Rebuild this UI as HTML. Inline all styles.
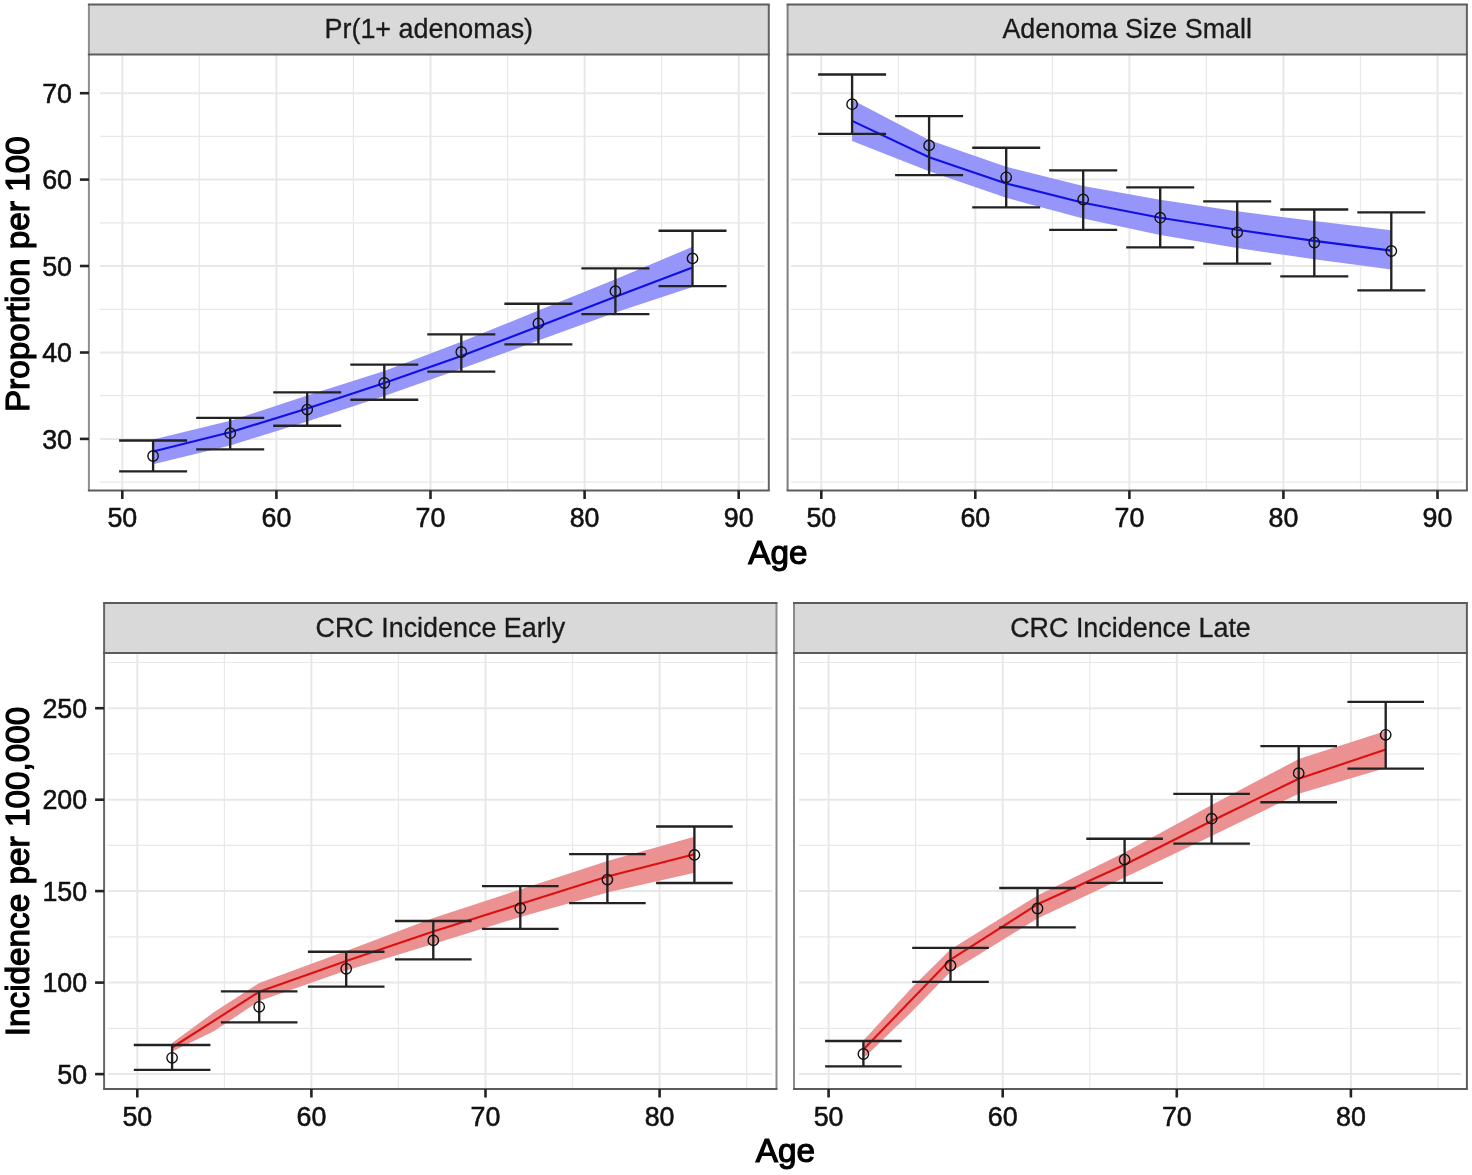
<!DOCTYPE html>
<html><head><meta charset="utf-8"><title>chart</title>
<style>html,body{margin:0;padding:0;background:#fff;}svg{display:block;filter:blur(0.45px);}text{font-family:"Liberation Sans", sans-serif;}</style>
</head><body>
<svg width="1472" height="1175" viewBox="0 0 1472 1175">
<rect width="1472" height="1175" fill="#fff"/>
<rect x="88.9" y="54.4" width="679.9" height="436.1" fill="#fff"/>
<line x1="100.0" x2="765.0" y1="482.1" y2="482.1" stroke="#e8e8e8" stroke-width="1.2"/>
<line x1="100.0" x2="765.0" y1="395.7" y2="395.7" stroke="#e8e8e8" stroke-width="1.2"/>
<line x1="100.0" x2="765.0" y1="309.3" y2="309.3" stroke="#e8e8e8" stroke-width="1.2"/>
<line x1="100.0" x2="765.0" y1="222.8" y2="222.8" stroke="#e8e8e8" stroke-width="1.2"/>
<line x1="100.0" x2="765.0" y1="136.4" y2="136.4" stroke="#e8e8e8" stroke-width="1.2"/>
<line x1="199.3" x2="199.3" y1="54.4" y2="490.5" stroke="#e8e8e8" stroke-width="1.2"/>
<line x1="353.4" x2="353.4" y1="54.4" y2="490.5" stroke="#e8e8e8" stroke-width="1.2"/>
<line x1="507.6" x2="507.6" y1="54.4" y2="490.5" stroke="#e8e8e8" stroke-width="1.2"/>
<line x1="661.6" x2="661.6" y1="54.4" y2="490.5" stroke="#e8e8e8" stroke-width="1.2"/>
<line x1="100.0" x2="765.0" y1="438.9" y2="438.9" stroke="#e8e8e8" stroke-width="2"/>
<line x1="100.0" x2="765.0" y1="352.5" y2="352.5" stroke="#e8e8e8" stroke-width="2"/>
<line x1="100.0" x2="765.0" y1="266.0" y2="266.0" stroke="#e8e8e8" stroke-width="2"/>
<line x1="100.0" x2="765.0" y1="179.6" y2="179.6" stroke="#e8e8e8" stroke-width="2"/>
<line x1="100.0" x2="765.0" y1="93.2" y2="93.2" stroke="#e8e8e8" stroke-width="2"/>
<line x1="122.3" x2="122.3" y1="54.4" y2="490.5" stroke="#e8e8e8" stroke-width="2"/>
<line x1="276.4" x2="276.4" y1="54.4" y2="490.5" stroke="#e8e8e8" stroke-width="2"/>
<line x1="430.5" x2="430.5" y1="54.4" y2="490.5" stroke="#e8e8e8" stroke-width="2"/>
<line x1="584.6" x2="584.6" y1="54.4" y2="490.5" stroke="#e8e8e8" stroke-width="2"/>
<line x1="738.7" x2="738.7" y1="54.4" y2="490.5" stroke="#e8e8e8" stroke-width="2"/>
<path d="M153.1,439.4 L230.2,420.8 L307.2,395.5 L384.3,371.0 L461.3,341.8 L538.4,310.5 L615.4,279.3 L692.5,246.8 L692.5,287.0 L615.4,312.5 L538.4,340.5 L461.3,368.8 L384.3,396.0 L307.2,421.5 L230.2,445.5 L153.1,464.2 Z" fill="#9696fa" stroke="none"/>
<path d="M153.1,451.4 L230.2,432.3 L307.2,408.4 L384.3,382.9 L461.3,356.1 L538.4,326.6 L615.4,296.8 L692.5,267.6" fill="none" stroke="#1010e6" stroke-width="2.1" stroke-linejoin="round"/>
<path d="M119.1,440.5H187.1M153.1,440.5V471.3M119.1,471.3H187.1" stroke="#222" stroke-width="2.35" fill="none"/>
<path d="M196.2,417.9H264.2M230.2,417.9V449.3M196.2,449.3H264.2" stroke="#222" stroke-width="2.35" fill="none"/>
<path d="M273.2,392.4H341.2M307.2,392.4V425.7M273.2,425.7H341.2" stroke="#222" stroke-width="2.35" fill="none"/>
<path d="M350.3,364.6H418.3M384.3,364.6V399.7M350.3,399.7H418.3" stroke="#222" stroke-width="2.35" fill="none"/>
<path d="M427.3,334.3H495.3M461.3,334.3V371.6M427.3,371.6H495.3" stroke="#222" stroke-width="2.35" fill="none"/>
<path d="M504.4,303.7H572.4M538.4,303.7V344.3M504.4,344.3H572.4" stroke="#222" stroke-width="2.35" fill="none"/>
<path d="M581.4,268.3H649.4M615.4,268.3V314.1M581.4,314.1H649.4" stroke="#222" stroke-width="2.35" fill="none"/>
<path d="M658.5,230.7H726.5M692.5,230.7V286.1M658.5,286.1H726.5" stroke="#222" stroke-width="2.35" fill="none"/>
<circle cx="153.1" cy="456.0" r="5.2" fill="none" stroke="#111" stroke-width="1.4"/>
<circle cx="230.2" cy="433.2" r="5.2" fill="none" stroke="#111" stroke-width="1.4"/>
<circle cx="307.2" cy="409.6" r="5.2" fill="none" stroke="#111" stroke-width="1.4"/>
<circle cx="384.3" cy="383.0" r="5.2" fill="none" stroke="#111" stroke-width="1.4"/>
<circle cx="461.3" cy="352.0" r="5.2" fill="none" stroke="#111" stroke-width="1.4"/>
<circle cx="538.4" cy="323.4" r="5.2" fill="none" stroke="#111" stroke-width="1.4"/>
<circle cx="615.4" cy="291.2" r="5.2" fill="none" stroke="#111" stroke-width="1.4"/>
<circle cx="692.5" cy="258.4" r="5.2" fill="none" stroke="#111" stroke-width="1.4"/>
<rect x="88.9" y="4.6" width="679.9" height="49.8" fill="#d9d9d9"/>
<path d="M88.9,4.6V490.5" stroke="#8e8e8e" stroke-width="2" fill="none"/>
<path d="M768.8,4.6V490.5" stroke="#646464" stroke-width="2" fill="none"/>
<path d="M87.9,4.6H769.8M87.9,54.4H769.8M87.9,490.5H769.8" stroke="#5c5c5c" stroke-width="2" fill="none"/>
<text x="428.8" y="38.4" font-size="26.9" fill="#1a1a1a" stroke="#1a1a1a" stroke-width="0.3" text-anchor="middle">Pr(1+ adenomas)</text>
<line x1="79.9" x2="88.9" y1="438.9" y2="438.9" stroke="#222" stroke-width="2.6"/>
<text x="72.0" y="448.5" font-size="26.8" fill="#111" stroke="#111" stroke-width="0.55" text-anchor="end">30</text>
<line x1="79.9" x2="88.9" y1="352.5" y2="352.5" stroke="#222" stroke-width="2.6"/>
<text x="72.0" y="362.1" font-size="26.8" fill="#111" stroke="#111" stroke-width="0.55" text-anchor="end">40</text>
<line x1="79.9" x2="88.9" y1="266.0" y2="266.0" stroke="#222" stroke-width="2.6"/>
<text x="72.0" y="275.6" font-size="26.8" fill="#111" stroke="#111" stroke-width="0.55" text-anchor="end">50</text>
<line x1="79.9" x2="88.9" y1="179.6" y2="179.6" stroke="#222" stroke-width="2.6"/>
<text x="72.0" y="189.2" font-size="26.8" fill="#111" stroke="#111" stroke-width="0.55" text-anchor="end">60</text>
<line x1="79.9" x2="88.9" y1="93.2" y2="93.2" stroke="#222" stroke-width="2.6"/>
<text x="72.0" y="102.8" font-size="26.8" fill="#111" stroke="#111" stroke-width="0.55" text-anchor="end">70</text>
<line x1="122.3" x2="122.3" y1="490.5" y2="499.0" stroke="#222" stroke-width="2.6"/>
<text x="122.3" y="527.3" font-size="26.8" fill="#111" stroke="#111" stroke-width="0.55" text-anchor="middle">50</text>
<line x1="276.4" x2="276.4" y1="490.5" y2="499.0" stroke="#222" stroke-width="2.6"/>
<text x="276.4" y="527.3" font-size="26.8" fill="#111" stroke="#111" stroke-width="0.55" text-anchor="middle">60</text>
<line x1="430.5" x2="430.5" y1="490.5" y2="499.0" stroke="#222" stroke-width="2.6"/>
<text x="430.5" y="527.3" font-size="26.8" fill="#111" stroke="#111" stroke-width="0.55" text-anchor="middle">70</text>
<line x1="584.6" x2="584.6" y1="490.5" y2="499.0" stroke="#222" stroke-width="2.6"/>
<text x="584.6" y="527.3" font-size="26.8" fill="#111" stroke="#111" stroke-width="0.55" text-anchor="middle">80</text>
<line x1="738.7" x2="738.7" y1="490.5" y2="499.0" stroke="#222" stroke-width="2.6"/>
<text x="738.7" y="527.3" font-size="26.8" fill="#111" stroke="#111" stroke-width="0.55" text-anchor="middle">90</text>
<rect x="787.6" y="54.4" width="679.3" height="436.1" fill="#fff"/>
<line x1="791.0" x2="1463.0" y1="482.1" y2="482.1" stroke="#e8e8e8" stroke-width="1.2"/>
<line x1="791.0" x2="1463.0" y1="395.7" y2="395.7" stroke="#e8e8e8" stroke-width="1.2"/>
<line x1="791.0" x2="1463.0" y1="309.3" y2="309.3" stroke="#e8e8e8" stroke-width="1.2"/>
<line x1="791.0" x2="1463.0" y1="222.8" y2="222.8" stroke="#e8e8e8" stroke-width="1.2"/>
<line x1="791.0" x2="1463.0" y1="136.4" y2="136.4" stroke="#e8e8e8" stroke-width="1.2"/>
<line x1="898.3" x2="898.3" y1="54.4" y2="490.5" stroke="#e8e8e8" stroke-width="1.2"/>
<line x1="1052.4" x2="1052.4" y1="54.4" y2="490.5" stroke="#e8e8e8" stroke-width="1.2"/>
<line x1="1206.4" x2="1206.4" y1="54.4" y2="490.5" stroke="#e8e8e8" stroke-width="1.2"/>
<line x1="1360.5" x2="1360.5" y1="54.4" y2="490.5" stroke="#e8e8e8" stroke-width="1.2"/>
<line x1="791.0" x2="1463.0" y1="438.9" y2="438.9" stroke="#e8e8e8" stroke-width="2"/>
<line x1="791.0" x2="1463.0" y1="352.5" y2="352.5" stroke="#e8e8e8" stroke-width="2"/>
<line x1="791.0" x2="1463.0" y1="266.0" y2="266.0" stroke="#e8e8e8" stroke-width="2"/>
<line x1="791.0" x2="1463.0" y1="179.6" y2="179.6" stroke="#e8e8e8" stroke-width="2"/>
<line x1="791.0" x2="1463.0" y1="93.2" y2="93.2" stroke="#e8e8e8" stroke-width="2"/>
<line x1="821.3" x2="821.3" y1="54.4" y2="490.5" stroke="#e8e8e8" stroke-width="2"/>
<line x1="975.3" x2="975.3" y1="54.4" y2="490.5" stroke="#e8e8e8" stroke-width="2"/>
<line x1="1129.4" x2="1129.4" y1="54.4" y2="490.5" stroke="#e8e8e8" stroke-width="2"/>
<line x1="1283.4" x2="1283.4" y1="54.4" y2="490.5" stroke="#e8e8e8" stroke-width="2"/>
<line x1="1437.5" x2="1437.5" y1="54.4" y2="490.5" stroke="#e8e8e8" stroke-width="2"/>
<path d="M852.1,99.7 L929.1,140.0 L1006.2,166.8 L1083.2,186.1 L1160.2,199.8 L1237.2,211.3 L1314.3,221.1 L1391.3,230.3 L1391.3,269.4 L1314.3,259.3 L1237.2,248.0 L1160.2,234.9 L1083.2,218.6 L1006.2,197.8 L929.1,171.3 L852.1,141.0 Z" fill="#9696fa" stroke="none"/>
<path d="M852.1,120.9 L929.1,157.2 L1006.2,183.4 L1083.2,202.7 L1160.2,217.7 L1237.2,229.8 L1314.3,240.9 L1391.3,250.6" fill="none" stroke="#1010e6" stroke-width="2.1" stroke-linejoin="round"/>
<path d="M818.1,74.5H886.1M852.1,74.5V133.8M818.1,133.8H886.1" stroke="#222" stroke-width="2.35" fill="none"/>
<path d="M895.1,116.1H963.1M929.1,116.1V175.1M895.1,175.1H963.1" stroke="#222" stroke-width="2.35" fill="none"/>
<path d="M972.2,147.7H1040.2M1006.2,147.7V207.3M972.2,207.3H1040.2" stroke="#222" stroke-width="2.35" fill="none"/>
<path d="M1049.2,170.4H1117.2M1083.2,170.4V229.8M1049.2,229.8H1117.2" stroke="#222" stroke-width="2.35" fill="none"/>
<path d="M1126.2,187.3H1194.2M1160.2,187.3V247.3M1126.2,247.3H1194.2" stroke="#222" stroke-width="2.35" fill="none"/>
<path d="M1203.2,201.4H1271.2M1237.2,201.4V263.6M1203.2,263.6H1271.2" stroke="#222" stroke-width="2.35" fill="none"/>
<path d="M1280.3,209.5H1348.3M1314.3,209.5V276.3M1280.3,276.3H1348.3" stroke="#222" stroke-width="2.35" fill="none"/>
<path d="M1357.3,212.3H1425.3M1391.3,212.3V290.4M1357.3,290.4H1425.3" stroke="#222" stroke-width="2.35" fill="none"/>
<circle cx="852.1" cy="104.2" r="5.2" fill="none" stroke="#111" stroke-width="1.4"/>
<circle cx="929.1" cy="145.4" r="5.2" fill="none" stroke="#111" stroke-width="1.4"/>
<circle cx="1006.2" cy="177.3" r="5.2" fill="none" stroke="#111" stroke-width="1.4"/>
<circle cx="1083.2" cy="199.5" r="5.2" fill="none" stroke="#111" stroke-width="1.4"/>
<circle cx="1160.2" cy="217.7" r="5.2" fill="none" stroke="#111" stroke-width="1.4"/>
<circle cx="1237.2" cy="232.3" r="5.2" fill="none" stroke="#111" stroke-width="1.4"/>
<circle cx="1314.3" cy="242.6" r="5.2" fill="none" stroke="#111" stroke-width="1.4"/>
<circle cx="1391.3" cy="251.0" r="5.2" fill="none" stroke="#111" stroke-width="1.4"/>
<rect x="787.6" y="4.6" width="679.3" height="49.8" fill="#d9d9d9"/>
<path d="M787.6,4.6V490.5" stroke="#7e7e7e" stroke-width="2" fill="none"/>
<path d="M1466.9,4.6V490.5" stroke="#646464" stroke-width="2" fill="none"/>
<path d="M786.6,4.6H1467.9M786.6,54.4H1467.9M786.6,490.5H1467.9" stroke="#5c5c5c" stroke-width="2" fill="none"/>
<text x="1127.2" y="38.4" font-size="26.9" fill="#1a1a1a" stroke="#1a1a1a" stroke-width="0.3" text-anchor="middle">Adenoma Size Small</text>
<line x1="821.3" x2="821.3" y1="490.5" y2="499.0" stroke="#222" stroke-width="2.6"/>
<text x="821.3" y="527.3" font-size="26.8" fill="#111" stroke="#111" stroke-width="0.55" text-anchor="middle">50</text>
<line x1="975.3" x2="975.3" y1="490.5" y2="499.0" stroke="#222" stroke-width="2.6"/>
<text x="975.3" y="527.3" font-size="26.8" fill="#111" stroke="#111" stroke-width="0.55" text-anchor="middle">60</text>
<line x1="1129.4" x2="1129.4" y1="490.5" y2="499.0" stroke="#222" stroke-width="2.6"/>
<text x="1129.4" y="527.3" font-size="26.8" fill="#111" stroke="#111" stroke-width="0.55" text-anchor="middle">70</text>
<line x1="1283.4" x2="1283.4" y1="490.5" y2="499.0" stroke="#222" stroke-width="2.6"/>
<text x="1283.4" y="527.3" font-size="26.8" fill="#111" stroke="#111" stroke-width="0.55" text-anchor="middle">80</text>
<line x1="1437.5" x2="1437.5" y1="490.5" y2="499.0" stroke="#222" stroke-width="2.6"/>
<text x="1437.5" y="527.3" font-size="26.8" fill="#111" stroke="#111" stroke-width="0.55" text-anchor="middle">90</text>
<rect x="104.1" y="653.0" width="672.4" height="436.0" fill="#fff"/>
<line x1="107.7" x2="771.7" y1="1028.4" y2="1028.4" stroke="#e8e8e8" stroke-width="1.2"/>
<line x1="107.7" x2="771.7" y1="936.9" y2="936.9" stroke="#e8e8e8" stroke-width="1.2"/>
<line x1="107.7" x2="771.7" y1="845.4" y2="845.4" stroke="#e8e8e8" stroke-width="1.2"/>
<line x1="107.7" x2="771.7" y1="753.9" y2="753.9" stroke="#e8e8e8" stroke-width="1.2"/>
<line x1="107.7" x2="771.7" y1="662.5" y2="662.5" stroke="#e8e8e8" stroke-width="1.2"/>
<line x1="224.4" x2="224.4" y1="653.0" y2="1089.0" stroke="#e8e8e8" stroke-width="1.2"/>
<line x1="398.4" x2="398.4" y1="653.0" y2="1089.0" stroke="#e8e8e8" stroke-width="1.2"/>
<line x1="572.5" x2="572.5" y1="653.0" y2="1089.0" stroke="#e8e8e8" stroke-width="1.2"/>
<line x1="746.7" x2="746.7" y1="653.0" y2="1089.0" stroke="#e8e8e8" stroke-width="1.2"/>
<line x1="107.7" x2="771.7" y1="1074.1" y2="1074.1" stroke="#e8e8e8" stroke-width="2"/>
<line x1="107.7" x2="771.7" y1="982.6" y2="982.6" stroke="#e8e8e8" stroke-width="2"/>
<line x1="107.7" x2="771.7" y1="891.1" y2="891.1" stroke="#e8e8e8" stroke-width="2"/>
<line x1="107.7" x2="771.7" y1="799.7" y2="799.7" stroke="#e8e8e8" stroke-width="2"/>
<line x1="107.7" x2="771.7" y1="708.2" y2="708.2" stroke="#e8e8e8" stroke-width="2"/>
<line x1="137.3" x2="137.3" y1="653.0" y2="1089.0" stroke="#e8e8e8" stroke-width="2"/>
<line x1="311.4" x2="311.4" y1="653.0" y2="1089.0" stroke="#e8e8e8" stroke-width="2"/>
<line x1="485.5" x2="485.5" y1="653.0" y2="1089.0" stroke="#e8e8e8" stroke-width="2"/>
<line x1="659.6" x2="659.6" y1="653.0" y2="1089.0" stroke="#e8e8e8" stroke-width="2"/>
<path d="M172.1,1043.0 L213.4,1012.6 L259.2,983.0 L346.2,951.0 L433.3,918.0 L520.3,889.4 L607.4,861.0 L694.4,836.7 L694.4,872.8 L607.4,892.6 L520.3,917.0 L433.3,944.0 L346.2,970.5 L259.2,1001.0 L213.4,1031.6 L172.1,1051.5 Z" fill="#eb9191" stroke="none"/>
<path d="M172.1,1047.5 L259.2,991.8 L346.2,961.1 L433.3,931.5 L520.3,903.9 L607.4,876.5 L694.4,854.2" fill="none" stroke="#dc1010" stroke-width="2.1" stroke-linejoin="round"/>
<path d="M133.8,1045.0H210.4M172.1,1045.0V1069.9M133.8,1069.9H210.4" stroke="#222" stroke-width="2.35" fill="none"/>
<path d="M220.9,991.4H297.5M259.2,991.4V1022.3M220.9,1022.3H297.5" stroke="#222" stroke-width="2.35" fill="none"/>
<path d="M307.9,951.7H384.5M346.2,951.7V986.6M307.9,986.6H384.5" stroke="#222" stroke-width="2.35" fill="none"/>
<path d="M395.0,921.0H471.6M433.3,921.0V959.4M395.0,959.4H471.6" stroke="#222" stroke-width="2.35" fill="none"/>
<path d="M482.0,886.1H558.6M520.3,886.1V928.9M482.0,928.9H558.6" stroke="#222" stroke-width="2.35" fill="none"/>
<path d="M569.1,854.1H645.7M607.4,854.1V903.1M569.1,903.1H645.7" stroke="#222" stroke-width="2.35" fill="none"/>
<path d="M656.1,826.5H732.7M694.4,826.5V883.0M656.1,883.0H732.7" stroke="#222" stroke-width="2.35" fill="none"/>
<circle cx="172.1" cy="1057.8" r="5.2" fill="none" stroke="#111" stroke-width="1.4"/>
<circle cx="259.2" cy="1006.8" r="5.2" fill="none" stroke="#111" stroke-width="1.4"/>
<circle cx="346.2" cy="968.8" r="5.2" fill="none" stroke="#111" stroke-width="1.4"/>
<circle cx="433.3" cy="940.4" r="5.2" fill="none" stroke="#111" stroke-width="1.4"/>
<circle cx="520.3" cy="908.1" r="5.2" fill="none" stroke="#111" stroke-width="1.4"/>
<circle cx="607.4" cy="879.6" r="5.2" fill="none" stroke="#111" stroke-width="1.4"/>
<circle cx="694.4" cy="854.9" r="5.2" fill="none" stroke="#111" stroke-width="1.4"/>
<rect x="104.1" y="602.9" width="672.4" height="50.1" fill="#d9d9d9"/>
<path d="M104.1,602.9V1089.0" stroke="#666666" stroke-width="2" fill="none"/>
<path d="M776.5,602.9V1089.0" stroke="#8e8e8e" stroke-width="2" fill="none"/>
<path d="M103.1,602.9H777.5M103.1,653.0H777.5M103.1,1089.0H777.5" stroke="#5c5c5c" stroke-width="2" fill="none"/>
<text x="440.3" y="637.0" font-size="26.9" fill="#1a1a1a" stroke="#1a1a1a" stroke-width="0.3" text-anchor="middle">CRC Incidence Early</text>
<line x1="95.1" x2="104.1" y1="1074.1" y2="1074.1" stroke="#222" stroke-width="2.6"/>
<text x="87.1" y="1083.7" font-size="26.8" fill="#111" stroke="#111" stroke-width="0.55" text-anchor="end">50</text>
<line x1="95.1" x2="104.1" y1="982.6" y2="982.6" stroke="#222" stroke-width="2.6"/>
<text x="87.1" y="992.2" font-size="26.8" fill="#111" stroke="#111" stroke-width="0.55" text-anchor="end">100</text>
<line x1="95.1" x2="104.1" y1="891.1" y2="891.1" stroke="#222" stroke-width="2.6"/>
<text x="87.1" y="900.7" font-size="26.8" fill="#111" stroke="#111" stroke-width="0.55" text-anchor="end">150</text>
<line x1="95.1" x2="104.1" y1="799.7" y2="799.7" stroke="#222" stroke-width="2.6"/>
<text x="87.1" y="809.3" font-size="26.8" fill="#111" stroke="#111" stroke-width="0.55" text-anchor="end">200</text>
<line x1="95.1" x2="104.1" y1="708.2" y2="708.2" stroke="#222" stroke-width="2.6"/>
<text x="87.1" y="717.8" font-size="26.8" fill="#111" stroke="#111" stroke-width="0.55" text-anchor="end">250</text>
<line x1="137.3" x2="137.3" y1="1089.0" y2="1097.5" stroke="#222" stroke-width="2.6"/>
<text x="137.3" y="1126.2" font-size="26.8" fill="#111" stroke="#111" stroke-width="0.55" text-anchor="middle">50</text>
<line x1="311.4" x2="311.4" y1="1089.0" y2="1097.5" stroke="#222" stroke-width="2.6"/>
<text x="311.4" y="1126.2" font-size="26.8" fill="#111" stroke="#111" stroke-width="0.55" text-anchor="middle">60</text>
<line x1="485.5" x2="485.5" y1="1089.0" y2="1097.5" stroke="#222" stroke-width="2.6"/>
<text x="485.5" y="1126.2" font-size="26.8" fill="#111" stroke="#111" stroke-width="0.55" text-anchor="middle">70</text>
<line x1="659.6" x2="659.6" y1="1089.0" y2="1097.5" stroke="#222" stroke-width="2.6"/>
<text x="659.6" y="1126.2" font-size="26.8" fill="#111" stroke="#111" stroke-width="0.55" text-anchor="middle">80</text>
<rect x="794.0" y="653.0" width="672.9" height="436.0" fill="#fff"/>
<line x1="799.0" x2="1461.4" y1="1028.4" y2="1028.4" stroke="#e8e8e8" stroke-width="1.2"/>
<line x1="799.0" x2="1461.4" y1="936.9" y2="936.9" stroke="#e8e8e8" stroke-width="1.2"/>
<line x1="799.0" x2="1461.4" y1="845.4" y2="845.4" stroke="#e8e8e8" stroke-width="1.2"/>
<line x1="799.0" x2="1461.4" y1="753.9" y2="753.9" stroke="#e8e8e8" stroke-width="1.2"/>
<line x1="799.0" x2="1461.4" y1="662.5" y2="662.5" stroke="#e8e8e8" stroke-width="1.2"/>
<line x1="915.6" x2="915.6" y1="653.0" y2="1089.0" stroke="#e8e8e8" stroke-width="1.2"/>
<line x1="1089.8" x2="1089.8" y1="653.0" y2="1089.0" stroke="#e8e8e8" stroke-width="1.2"/>
<line x1="1263.8" x2="1263.8" y1="653.0" y2="1089.0" stroke="#e8e8e8" stroke-width="1.2"/>
<line x1="1438.0" x2="1438.0" y1="653.0" y2="1089.0" stroke="#e8e8e8" stroke-width="1.2"/>
<line x1="799.0" x2="1461.4" y1="1074.1" y2="1074.1" stroke="#e8e8e8" stroke-width="2"/>
<line x1="799.0" x2="1461.4" y1="982.6" y2="982.6" stroke="#e8e8e8" stroke-width="2"/>
<line x1="799.0" x2="1461.4" y1="891.1" y2="891.1" stroke="#e8e8e8" stroke-width="2"/>
<line x1="799.0" x2="1461.4" y1="799.7" y2="799.7" stroke="#e8e8e8" stroke-width="2"/>
<line x1="799.0" x2="1461.4" y1="708.2" y2="708.2" stroke="#e8e8e8" stroke-width="2"/>
<line x1="828.6" x2="828.6" y1="653.0" y2="1089.0" stroke="#e8e8e8" stroke-width="2"/>
<line x1="1002.7" x2="1002.7" y1="653.0" y2="1089.0" stroke="#e8e8e8" stroke-width="2"/>
<line x1="1176.8" x2="1176.8" y1="653.0" y2="1089.0" stroke="#e8e8e8" stroke-width="2"/>
<line x1="1350.9" x2="1350.9" y1="653.0" y2="1089.0" stroke="#e8e8e8" stroke-width="2"/>
<path d="M863.4,1040.5 L912.2,987.2 L950.5,949.5 L1037.5,895.4 L1124.6,852.5 L1211.6,804.9 L1298.7,759.1 L1385.7,731.1 L1385.7,768.0 L1298.7,793.7 L1211.6,835.9 L1124.6,877.5 L1037.5,918.4 L950.5,972.0 L912.2,1011.3 L863.4,1058.5 Z" fill="#eb9191" stroke="none"/>
<path d="M863.4,1049.5 L950.5,959.6 L1037.5,904.3 L1124.6,864.7 L1211.6,821.0 L1298.7,778.7 L1385.7,749.5" fill="none" stroke="#dc1010" stroke-width="2.1" stroke-linejoin="round"/>
<path d="M825.1,1041.0H901.7M863.4,1041.0V1066.3M825.1,1066.3H901.7" stroke="#222" stroke-width="2.35" fill="none"/>
<path d="M912.2,947.9H988.8M950.5,947.9V981.9M912.2,981.9H988.8" stroke="#222" stroke-width="2.35" fill="none"/>
<path d="M999.2,888.0H1075.8M1037.5,888.0V927.3M999.2,927.3H1075.8" stroke="#222" stroke-width="2.35" fill="none"/>
<path d="M1086.3,838.7H1162.9M1124.6,838.7V882.9M1086.3,882.9H1162.9" stroke="#222" stroke-width="2.35" fill="none"/>
<path d="M1173.3,793.8H1249.9M1211.6,793.8V843.6M1173.3,843.6H1249.9" stroke="#222" stroke-width="2.35" fill="none"/>
<path d="M1260.4,746.1H1337.0M1298.7,746.1V802.2M1260.4,802.2H1337.0" stroke="#222" stroke-width="2.35" fill="none"/>
<path d="M1347.4,701.8H1424.0M1385.7,701.8V768.6M1347.4,768.6H1424.0" stroke="#222" stroke-width="2.35" fill="none"/>
<circle cx="863.4" cy="1054.0" r="5.2" fill="none" stroke="#111" stroke-width="1.4"/>
<circle cx="950.5" cy="965.5" r="5.2" fill="none" stroke="#111" stroke-width="1.4"/>
<circle cx="1037.5" cy="908.5" r="5.2" fill="none" stroke="#111" stroke-width="1.4"/>
<circle cx="1124.6" cy="859.6" r="5.2" fill="none" stroke="#111" stroke-width="1.4"/>
<circle cx="1211.6" cy="818.7" r="5.2" fill="none" stroke="#111" stroke-width="1.4"/>
<circle cx="1298.7" cy="773.2" r="5.2" fill="none" stroke="#111" stroke-width="1.4"/>
<circle cx="1385.7" cy="734.8" r="5.2" fill="none" stroke="#111" stroke-width="1.4"/>
<rect x="794.0" y="602.9" width="672.9" height="50.1" fill="#d9d9d9"/>
<path d="M794.0,602.9V1089.0" stroke="#8a8a8a" stroke-width="2" fill="none"/>
<path d="M1466.9,602.9V1089.0" stroke="#5e5e5e" stroke-width="2" fill="none"/>
<path d="M793.0,602.9H1467.9M793.0,653.0H1467.9M793.0,1089.0H1467.9" stroke="#5c5c5c" stroke-width="2" fill="none"/>
<text x="1130.5" y="637.0" font-size="26.9" fill="#1a1a1a" stroke="#1a1a1a" stroke-width="0.3" text-anchor="middle">CRC Incidence Late</text>
<line x1="828.6" x2="828.6" y1="1089.0" y2="1097.5" stroke="#222" stroke-width="2.6"/>
<text x="828.6" y="1126.2" font-size="26.8" fill="#111" stroke="#111" stroke-width="0.55" text-anchor="middle">50</text>
<line x1="1002.7" x2="1002.7" y1="1089.0" y2="1097.5" stroke="#222" stroke-width="2.6"/>
<text x="1002.7" y="1126.2" font-size="26.8" fill="#111" stroke="#111" stroke-width="0.55" text-anchor="middle">60</text>
<line x1="1176.8" x2="1176.8" y1="1089.0" y2="1097.5" stroke="#222" stroke-width="2.6"/>
<text x="1176.8" y="1126.2" font-size="26.8" fill="#111" stroke="#111" stroke-width="0.55" text-anchor="middle">70</text>
<line x1="1350.9" x2="1350.9" y1="1089.0" y2="1097.5" stroke="#222" stroke-width="2.6"/>
<text x="1350.9" y="1126.2" font-size="26.8" fill="#111" stroke="#111" stroke-width="0.55" text-anchor="middle">80</text>
<text x="777.9" y="564.0" font-size="33.3" fill="#000" stroke="#000" stroke-width="1.2" text-anchor="middle">Age</text>
<text x="785.3" y="1161.7" font-size="33.3" fill="#000" stroke="#000" stroke-width="1.2" text-anchor="middle">Age</text>
<text transform="translate(28.8,274.2) rotate(-90)" font-size="33.3" fill="#000" stroke="#000" stroke-width="1.2" text-anchor="middle">Proportion per 100</text>
<text transform="translate(28.8,871.5) rotate(-90)" font-size="33.3" fill="#000" stroke="#000" stroke-width="1.2" text-anchor="middle">Incidence per 100,000</text>
</svg>
</body></html>
